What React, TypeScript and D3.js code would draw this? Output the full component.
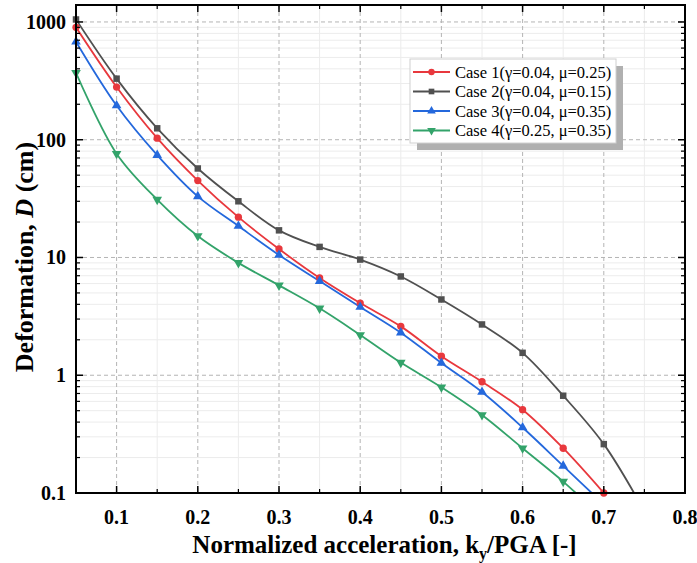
import React from 'react';
import * as d3 from 'd3';

const W = 697, H = 563;
const margin = { left: 76, right: 12, top: 5, bottom: 70 };

const xs = [0.05, 0.1, 0.15, 0.2, 0.25, 0.3, 0.35, 0.4, 0.45, 0.5, 0.55, 0.6, 0.65, 0.7];
// values past the bottom of the axis only steer the clipped curve end
const extraX = [0.7, 0.75];
const case1 = [900, 280, 103, 45, 22, 11.8, 6.7, 4.1, 2.6, 1.45, 0.88, 0.51, 0.24, 0.1];
const case2 = [1050, 330, 125, 57, 30, 17, 12.3, 9.6, 6.9, 4.4, 2.7, 1.55, 0.67, 0.26, 0.07];
const case3 = [680, 195, 74, 33, 18.5, 10.5, 6.3, 3.8, 2.3, 1.27, 0.72, 0.36, 0.17, 0.08];
const case4 = [370, 76, 31, 15.2, 9, 5.8, 3.7, 2.2, 1.28, 0.79, 0.46, 0.24, 0.125, 0.06];

const xTicks = [0.1, 0.2, 0.3, 0.4, 0.5, 0.6, 0.7, 0.8];
const yTicks = [0.1, 1, 10, 100, 1000];
const yTickLabels = ['0.1', '1', '10', '100', '1000'];

const series = [
  { name: 'Case 1(γ=0.04, μ=0.25)', vals: case1, color: '#e8383d', sym: d3.symbolCircle, rot: 0 },
  { name: 'Case 2(γ=0.04, μ=0.15)', vals: case2, color: '#505050', sym: d3.symbolSquare, rot: 0 },
  { name: 'Case 3(γ=0.04, μ=0.35)', vals: case3, color: '#2468dc', sym: d3.symbolTriangle, rot: 0 },
  { name: 'Case 4(γ=0.25, μ=0.35)', vals: case4, color: '#33a36a', sym: d3.symbolTriangle, rot: 180 },
];

export default function App() {
  const iw = W - margin.left - margin.right;
  const ih = H - margin.top - margin.bottom;
  const x = d3.scaleLinear().domain([0.05, 0.8]).range([0, iw]);
  const y = d3.scaleLog().domain([0.1, Math.pow(10, 3 + 17 / 118)]).range([ih, 0]);

  const xAt = (i: number) => (i < xs.length ? xs[i] : extraX[i - xs.length + 1]);
  const line = d3.line<number>()
    .x((d, i) => x(xAt(i)))
    .y(d => y(d))
    .curve(d3.curveCatmullRom.alpha(0.5));

  const xMinor = d3.range(0.05, 0.801, 0.05).map(v => +v.toFixed(2)).filter(v => !xTicks.includes(v));
  const yMinor: number[] = [];
  yTicks.forEach(dec => {
    for (let k = 2; k <= 9; k++) if (dec * k <= y.domain()[1]) yMinor.push(dec * k);
  });
  const font = '"Liberation Serif", "Times New Roman", serif';

  const lx = 410 - margin.left, ly = 59 - margin.top, lw = 206, lh = 84;

  return (
    <svg width={W} height={H} style={{ position: 'absolute', left: 0, top: 0, background: '#fff' }}>
      <defs>
        <clipPath id="plot"><rect x={0} y={0} width={iw} height={ih} /></clipPath>
      </defs>
      <g transform={`translate(${margin.left},${margin.top})`}>
        {/* minor grid */}
        {xMinor.map(v => <line key={'gx' + v} x1={x(v)} x2={x(v)} y1={0} y2={ih} stroke="#ececec" strokeWidth={1} />)}
        {yMinor.map(v => <line key={'gy' + v} x1={0} x2={iw} y1={y(v)} y2={y(v)} stroke="#ececec" strokeWidth={1} />)}
        {/* major grid */}
        {xTicks.slice(0, -1).map(v => <line key={'Gx' + v} x1={x(v)} x2={x(v)} y1={0} y2={ih} stroke="#b4b4b4" strokeDasharray="4,3" strokeWidth={1} />)}
        {yTicks.slice(1).map(v => <line key={'Gy' + v} x1={0} x2={iw} y1={y(v)} y2={y(v)} stroke="#b4b4b4" strokeDasharray="4,3" strokeWidth={1} />)}

        {/* series */}
        <g clipPath="url(#plot)">
          {series.map(s => (
            <path key={s.name} d={line(s.vals) || ''} fill="none" stroke={s.color} strokeWidth={1.8} />
          ))}
        </g>
        {series.map(s => s.vals.map((v, i) => v < 0.1 ? null : (
          <path key={s.name + i} transform={`translate(${x(xAt(i))},${y(v)}) rotate(${s.rot})`}
            d={d3.symbol(s.sym, s.sym === d3.symbolTriangle ? 40 : 42)() || ''} fill={s.color} />
        )))}

        {/* frame */}
        <rect x={0} y={0} width={iw} height={ih} fill="none" stroke="#000" strokeWidth={2} />
        {/* ticks */}
        {xTicks.map(v => (
          <g key={'tx' + v}>
            <line x1={x(v)} x2={x(v)} y1={ih} y2={ih - 7} stroke="#000" strokeWidth={1.5} />
            <line x1={x(v)} x2={x(v)} y1={0} y2={7} stroke="#000" strokeWidth={1.5} />
            <text x={x(v)} y={ih + 31} textAnchor="middle" fontFamily={font} fontWeight="bold" fontSize={20}>{v.toFixed(1)}</text>
          </g>
        ))}
        {xMinor.map(v => (
          <g key={'mx' + v}>
            <line x1={x(v)} x2={x(v)} y1={ih} y2={ih - 4} stroke="#000" strokeWidth={1.2} />
            <line x1={x(v)} x2={x(v)} y1={0} y2={4} stroke="#000" strokeWidth={1.2} />
          </g>
        ))}
        {yTicks.map((v, i) => (
          <g key={'ty' + v}>
            <line x1={0} x2={7} y1={y(v)} y2={y(v)} stroke="#000" strokeWidth={1.5} />
            <line x1={iw} x2={iw - 7} y1={y(v)} y2={y(v)} stroke="#000" strokeWidth={1.5} />
            <text x={-10} y={y(v) + 7} textAnchor="end" fontFamily={font} fontWeight="bold" fontSize={20}>{yTickLabels[i]}</text>
          </g>
        ))}
        {yMinor.map(v => (
          <g key={'my' + v}>
            <line x1={0} x2={4} y1={y(v)} y2={y(v)} stroke="#000" strokeWidth={1.2} />
            <line x1={iw} x2={iw - 4} y1={y(v)} y2={y(v)} stroke="#000" strokeWidth={1.2} />
          </g>
        ))}

        {/* legend */}
        <rect x={lx + 7} y={ly + 7} width={lw} height={lh} fill="#b0b0b0" />
        <rect x={lx} y={ly} width={lw} height={lh} fill="#fff" stroke="#d0d0d0" strokeWidth={1} />
        {series.map((s, i) => {
          const ry = ly + 13 + i * 19.5;
          return (
            <g key={'lg' + i}>
              <line x1={lx + 3} x2={lx + 40} y1={ry} y2={ry} stroke={s.color} strokeWidth={1.8} />
              <path transform={`translate(${lx + 21.5},${ry}) rotate(${s.rot})`} d={d3.symbol(s.sym, 32)() || ''} fill={s.color} />
              <text x={lx + 45} y={ry + 5.5} fontFamily={font} fontSize={16.5}>{s.name}</text>
            </g>
          );
        })}

        {/* axis titles */}
        <text x={iw / 2 + 4} y={ih + 60} textAnchor="middle" fontFamily={font} fontWeight="bold" fontSize={25}>
          Normalized acceleration, k<tspan dy={6} fontSize={16}>y</tspan><tspan dy={-6}>/PGA [-]</tspan>
        </text>
        <text transform={`translate(${-43},${ih / 2 + 8}) rotate(-90)`} textAnchor="middle" fontFamily={font} fontWeight="bold" fontSize={26}>
          Deformation, <tspan fontStyle="italic">D</tspan> (cm)
        </text>
      </g>
    </svg>
  );
}
